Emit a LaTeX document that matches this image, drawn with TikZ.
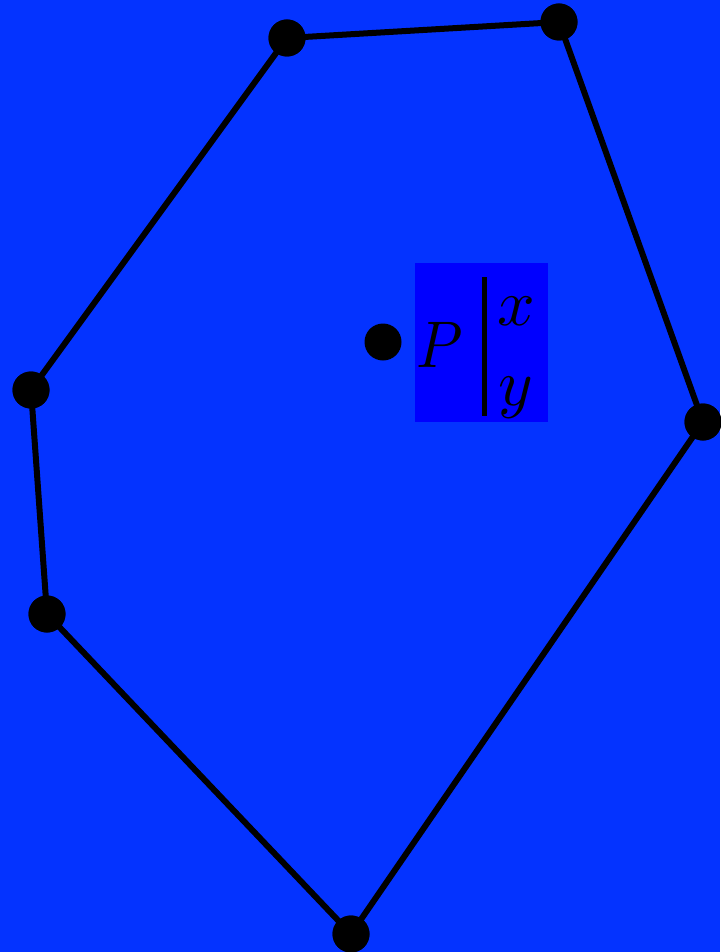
\documentclass[tikz,border=0pt]{standalone}
\definecolor{bgblue}{HTML}{0433FF}
\definecolor{boxblue}{HTML}{0000FF}
\begin{document}
\begin{tikzpicture}[x=1pt,y=-1pt,
  vdot/.style={circle,fill=black,minimum size=37pt,inner sep=0pt},
  edge/.style={draw=black,line width=6pt},
  lbl/.style={inner sep=0pt,anchor=base west,scale=6.6}]
\fill[bgblue] (0,0) rectangle (720,952);
\useasboundingbox (0,0) rectangle (720,952);
\node[vdot] (a) at (287,38) {};
\node[vdot] (b) at (559,22) {};
\node[vdot] (c) at (703,422) {};
\node[vdot] (d) at (351,934) {};
\node[vdot] (e) at (47,614) {};
\node[vdot] (f) at (31,390) {};
\node[vdot] (p) at (383,342) {};
\draw[edge] (a.center) -- (b.center) -- (c.center) -- (d.center) -- (e.center) -- (f.center) -- (a.center);
\node[vdot] at (a) {};
\node[vdot] at (b) {};
\node[vdot] at (c) {};
\node[vdot] at (d) {};
\node[vdot] at (e) {};
\node[vdot] at (f) {};
\node[fill=boxblue,minimum width=133pt,minimum height=159pt,inner sep=0pt] (box) at (481.5,342.5) {};
\node[lbl,xscale=0.9] (tp) at (415,367) {$P$};
\node[lbl] (tx) at (496,325) {$x$};
\node[lbl] (ty) at (497,405) {$y$};
\coordinate (bartop) at (484,277);
\coordinate (barbot) at (484,416);
\draw[black,line width=5pt] (bartop) -- (barbot);
\end{tikzpicture}
\end{document}
